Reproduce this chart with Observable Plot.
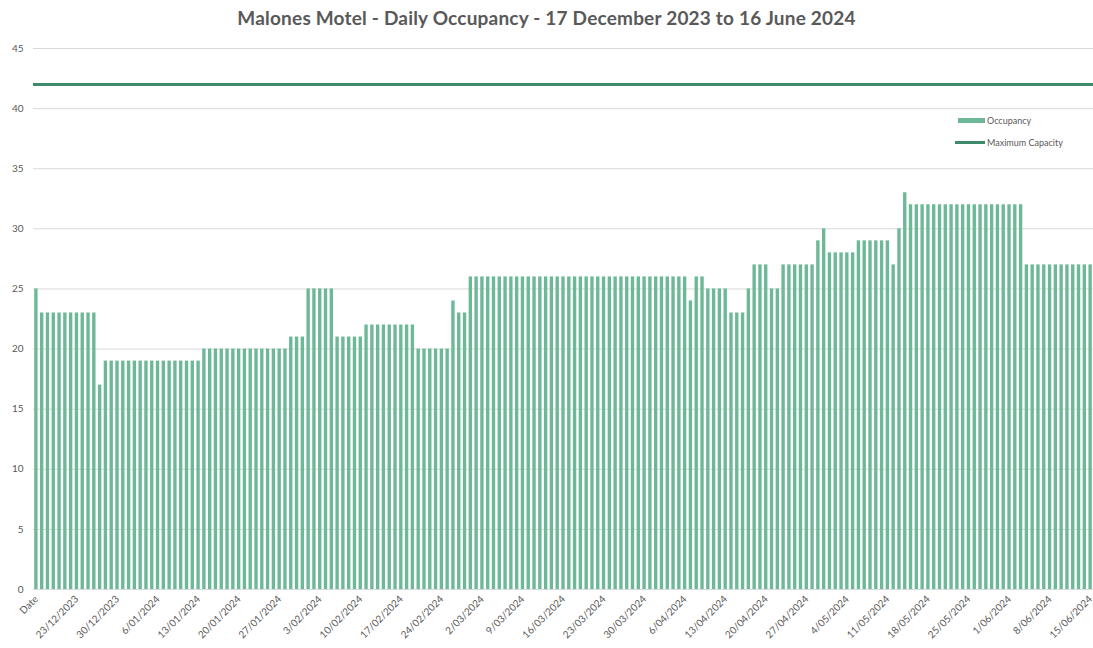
<!DOCTYPE html>
<html>
<head>
<meta charset="utf-8">
<script src="https://cdn.jsdelivr.net/npm/d3@7"></script>
<script src="https://cdn.jsdelivr.net/npm/@observablehq/plot@0.6"></script>
<style>
  body { margin: 0; background: #fff; font-family: Lato, "Open Sans", sans-serif; }
  #wrap { position: relative; width: 1093px; height: 648px; }
  #title { height: 36px; line-height: 36px; text-align: center; font-weight: 700; font-size: 19px; letter-spacing: 0.2px; color: #595959; }
  .leg { position: absolute; font-size: 9px; color: #595959; display: flex; align-items: center; }
  .sw { display: inline-block; margin-right: 2px; }
</style>
</head>
<body>
<div id="wrap">
  <div id="title">Malones Motel - Daily Occupancy - 17 December 2023 to 16 June 2024</div>
  <div id="chart"></div>
  <div class="leg" style="left:958px; top:115px;"><span class="sw" style="width:27px;height:5px;background:#6cb897;"></span>Occupancy</div>
  <div class="leg" style="left:955px; top:137px;"><span class="sw" style="width:30px;height:3px;background:#3e8a6d;"></span>Maximum Capacity</div>
</div>
<script>
// First category is the header label "Date", then one per day 17/12/2023 .. 15/06/2024
const firstCategory = "Date";
const startDate = new Date(2023, 11, 17);
const endDate = new Date(2024, 5, 16); // exclusive
const fmt = d3.timeFormat("%-d/%m/%Y");
const categories = [firstCategory, ...d3.timeDay.range(startDate, endDate).map(fmt)];

const occupancy = [
  25,
  23,23,23,23,23,23,23,23,23,23,
  17,
  19,19,19,19,19,19,19,19,19,19,19,19,19,19,19,19,19,
  20,20,20,20,20,20,20,20,20,20,20,20,20,20,20,
  21,21,21,
  25,25,25,25,25,
  21,21,21,21,21,
  22,22,22,22,22,22,22,22,22,
  20,20,20,20,20,20,
  24,
  23,23,
  26,26,26,26,26,26,26,26,26,26,26,26,26,26,26,26,26,26,26,
  26,26,26,26,26,26,26,26,26,26,26,26,26,26,26,26,26,26,26,
  24,
  26,26,
  25,25,25,25,
  23,23,23,
  25,
  27,27,27,
  25,25,
  27,27,27,27,27,27,
  29,
  30,
  28,28,28,28,28,
  29,29,29,29,29,29,
  27,
  30,
  33,
  32,32,32,32,32,32,32,32,32,32,32,32,32,32,32,32,32,32,32,32,
  27,27,27,27,27,27,27,27,27,27,27,27
];

const maxCapacity = [42];

const tickLabels = [
  "Date","23/12/2023","30/12/2023","6/01/2024","13/01/2024","20/01/2024","27/01/2024",
  "3/02/2024","10/02/2024","17/02/2024","24/02/2024","2/03/2024","9/03/2024","16/03/2024",
  "23/03/2024","30/03/2024","6/04/2024","13/04/2024","20/04/2024","27/04/2024","4/05/2024",
  "11/05/2024","18/05/2024","25/05/2024","1/06/2024","8/06/2024","15/06/2024"
];

const yTicks = [0, 5, 10, 15, 20, 25, 30, 35, 40, 45];

const data = categories.map((c, i) => ({date: c, occ: occupancy[i]}));

const chart = Plot.plot({
  width: 1093,
  height: 612,
  marginTop: 12,
  marginBottom: 59,
  marginLeft: 33,
  marginRight: 0,
  style: {fontFamily: "Lato, 'Open Sans', sans-serif", color: "#595959", background: "#fff"},
  x: {type: "band", domain: categories, paddingInner: 0.42, paddingOuter: 0.21},
  y: {domain: [0, 45]},
  marks: [
    Plot.gridY(yTicks, {stroke: "#d9d9d9", strokeOpacity: 1}),
    Plot.barY(data, {x: "date", y: "occ", fill: "#6cb897"}),
    Plot.ruleY(maxCapacity, {stroke: "#3e8a6d", strokeWidth: 3}),
    Plot.axisY(yTicks, {tickSize: 0, tickPadding: 10, fontSize: 10, label: null, color: "#595959"}),
    Plot.axisX(tickLabels, {tickSize: 0, tickPadding: 8, tickRotate: -45, fontSize: 10, label: null, color: "#595959"})
  ]
});
document.getElementById("chart").appendChild(chart);
</script>
</body>
</html>
